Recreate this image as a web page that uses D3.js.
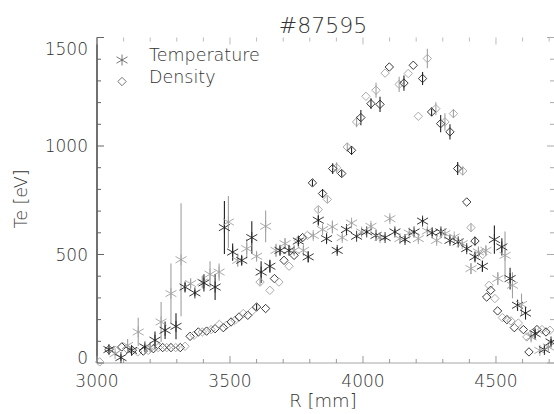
<!DOCTYPE html>
<html>
<head>
<meta charset="utf-8">
<script src="https://cdn.jsdelivr.net/npm/d3@7"></script>
<style>
  body { margin: 0; background: #fff; }
  svg text { font-family: "DejaVu Sans", sans-serif; font-weight: 200; fill: #333; }
</style>
</head>
<body>
<div id="chart"></div>
<script>
// Temperature profile: major radius R [mm], Te [eV], error
const tempR = [3045, 3068, 3090, 3115, 3130, 3155, 3180, 3200, 3218, 3241, 3256, 3278, 3297, 3316, 3331, 3352, 3368, 3396, 3402, 3425,
  3444, 3459, 3479, 3494, 3510, 3529, 3544, 3563, 3582, 3600, 3617, 3634, 3650, 3673, 3688, 3707, 3722, 3741, 3757, 3776,
  3794, 3813, 3832, 3848, 3863, 3885, 3903, 3922, 3938, 3957, 3976, 3995, 4014, 4030, 4049, 4064, 4083, 4101, 4120, 4139,
  4158, 4174, 4192, 4208, 4224, 4242, 4260, 4277, 4293, 4308, 4327, 4343, 4358, 4373, 4390, 4406, 4421, 4434, 4449, 4462,
  4494, 4507, 4522, 4534, 4553, 4562, 4581, 4596, 4611, 4632, 4647, 4665, 4682, 4697, 4707];
const tempTe = [62, 43, 25, 81, 58, 143, 74, 72, 105, 189, 151, 320, 169, 476, 350, 366, 323, 373, 369, 409,
  350, 419, 624, 650, 511, 473, 473, 527, 578, 492, 419, 630, 446, 519, 519, 550, 519, 519, 562, 519,
  489, 588, 658, 615, 573, 627, 519, 578, 615, 645, 584, 604, 604, 630, 588, 578, 578, 665, 604, 573,
  569, 599, 604, 573, 654, 608, 600, 565, 604, 596, 565, 581, 558, 550, 527, 435, 489, 512, 446, 519,
  569, 389, 535, 496, 389, 358, 266, 270, 230, 120, 135, 58, 62, 74, 97];
const tempErr = [10, 10, 15, 30, 20, 65, 15, 20, 40, 92, 40, 138, 60, 260, 20, 20, 15, 30, 40, 60,
  60, 40, 122, 120, 40, 30, 20, 45, 75, 20, 50, 73, 30, 30, 20, 25, 20, 20, 20, 20,
  25, 15, 20, 15, 20, 30, 15, 15, 15, 15, 10, 10, 10, 15, 10, 10, 10, 15, 15, 15,
  15, 10, 10, 15, 15, 15, 15, 15, 15, 10, 15, 10, 10, 10, 15, 25, 20, 20, 25, 20,
  65, 30, 40, 110, 50, 60, 25, 50, 30, 20, 20, 15, 15, 15, 15];

// Density profile (scaled onto the same axis)
const densR = [3010, 3045, 3070, 3093, 3112, 3133, 3153, 3174, 3193, 3212, 3230, 3247, 3262, 3278, 3296, 3313, 3331, 3350, 3365, 3381,
  3396, 3412, 3429, 3444, 3460, 3475, 3487, 3504, 3519, 3534, 3550, 3567, 3582, 3600, 3613, 3634, 3650, 3667, 3684, 3703,
  3722, 3741, 3757, 3773, 3791, 3810, 3832, 3848, 3866, 3886, 3901, 3920, 3941, 3957, 3976, 3992, 4011, 4030, 4049, 4064,
  4083, 4099, 4136, 4154, 4170, 4189, 4208, 4224, 4242, 4258, 4274, 4292, 4308, 4327, 4340, 4356, 4375, 4390, 4406, 4421,
  4450, 4465, 4474, 4480, 4496, 4506, 4524, 4541, 4556, 4569, 4584, 4603, 4616, 4624, 4637, 4654, 4673, 4688, 4703];
const densVal = [5, 62, 58, 74, 66, 58, 51, 55, 58, 66, 71, 71, 71, 71, 71, 71, 77, 123, 128, 143,
  143, 147, 154, 158, 178, 163, 174, 189, 197, 212, 228, 220, 238, 258, 373, 251, 335, 389, 373, 473,
  446, 496, 565, 578, 588, 830, 707, 781, 754, 896, 900, 873, 995, 980, 1111, 1131, 1229, 1195, 1257, 1192,
  1336, 1364, 1284, 1290, 1334, 1372, 1137, 1311, 1403, 1157, 1172, 1103, 1111, 1065, 1149, 896, 885, 742, 624, 562,
  500, 304, 358, 335, 297, 240, 209, 200, 194, 163, 184, 154, 120, 51, 138, 154, 154, 143, 151];
const densErr = [0, 0, 0, 0, 0, 0, 0, 0, 0, 0, 0, 0, 0, 0, 0, 0, 0, 0, 0, 0,
  0, 0, 0, 0, 0, 0, 0, 0, 0, 0, 0, 0, 0, 15, 15, 0, 0, 0, 0, 0,
  0, 0, 0, 0, 0, 15, 15, 20, 15, 25, 25, 15, 20, 20, 25, 35, 0, 25, 35, 35,
  0, 0, 35, 35, 0, 0, 0, 30, 45, 20, 30, 40, 40, 35, 20, 30, 20, 0, 20, 20,
  0, 0, 0, 0, 0, 0, 0, 0, 0, 0, 0, 0, 0, 0, 0, 0, 0, 0, 0];

const xTicks = [3000, 3500, 4000, 4500];
const yTicks = [0, 500, 1000, 1500];
const legendLabels = ["Temperature", "Density"];
const shades = ["#222", "#a0a0a0"]; // two overlapping acquisitions

const width = 554;
const height = 414;

const svg = d3.select("#chart")
  .append("svg")
  .attr("width", width)
  .attr("height", height);

const x = d3.scaleLinear().domain([3000, 4720]).range([97, 554.5]);
const y = d3.scaleLinear().domain([0, 1500]).range([363, 37.5]);

const temp = tempR.map((r, i) => ({ r, v: tempTe[i], e: tempErr[i], c: shades[i % 2] }));
const dens = densR.map((r, i) => ({ r, v: densVal[i], e: densErr[i], c: shades[(i + 1) % 2] }));

// asterisk symbol: vertical stroke plus two flat diagonals
const star = "M0,-5.5V5.5M-5.5,-3.2L5.5,3.2M-5.5,3.2L5.5,-3.2";
const diamond = "M0,-4.2L4.2,0L0,4.2L-4.2,0Z";

// axes frame
const y0 = y(0), y1 = y(1500);
svg.append("line").attr("x1", x(3000)).attr("x2", width).attr("y1", y0).attr("y2", y0)
  .attr("stroke", "#a8a8a8").attr("stroke-width", 1.2);
svg.append("line").attr("x1", x(3000)).attr("x2", x(3000)).attr("y1", y1).attr("y2", y0)
  .attr("stroke", "#111").attr("stroke-width", 1.2);

// minor + major ticks on x (bottom and top)
const xMinor = d3.range(3000, 4720, 100);
xMinor.forEach((t) => {
  const len = t % 500 === 0 ? 7 : 4;
  svg.append("line").attr("x1", x(t)).attr("x2", x(t)).attr("y1", y0).attr("y2", y0 - len)
    .attr("stroke", "#999");
  svg.append("line").attr("x1", x(t)).attr("x2", x(t)).attr("y1", y1).attr("y2", y1 + len)
    .attr("stroke", "#bbb");
});

// minor + major ticks on y (left and right)
d3.range(0, 1501, 100).forEach((t) => {
  const len = t % 500 === 0 ? 7 : 4;
  svg.append("line").attr("x1", x(3000)).attr("x2", x(3000) + len).attr("y1", y(t)).attr("y2", y(t))
    .attr("stroke", "#666");
  svg.append("line").attr("x1", width).attr("x2", width - len).attr("y1", y(t)).attr("y2", y(t))
    .attr("stroke", "#aaa");
});

// tick labels
svg.selectAll(".xl").data(xTicks).enter().append("text")
  .attr("x", (d) => x(d)).attr("y", 387)
  .attr("text-anchor", "middle").style("font-size", "17px")
  .text((d) => d);

svg.selectAll(".yl").data(yTicks).enter().append("text")
  .attr("x", 88).attr("y", (d) => Math.min(Math.max(y(d), 49), 358))
  .attr("dy", "0.36em")
  .attr("text-anchor", "end").style("font-size", "17px")
  .text((d) => d);

// titles
svg.append("text").attr("x", 323).attr("y", 33).attr("text-anchor", "middle")
  .style("font-size", "22px").text("#87595");
svg.append("text").attr("x", 323).attr("y", 407).attr("text-anchor", "middle")
  .style("font-size", "18px").text("R [mm]");
svg.append("text").attr("transform", "translate(27,199) rotate(-90)").attr("text-anchor", "middle")
  .style("font-size", "17.5px").text("Te [eV]");

// error bars
const plot = svg.append("g");
plot.selectAll(".te").data(temp.concat(dens).filter((d) => d.e > 0)).enter().append("line")
  .attr("x1", (d) => x(d.r)).attr("x2", (d) => x(d.r))
  .attr("y1", (d) => y(d.v - d.e)).attr("y2", (d) => y(d.v + d.e))
  .attr("stroke", (d) => d.c).attr("stroke-width", 1.1);

// density diamonds
plot.selectAll(".dn").data(dens).enter().append("path")
  .attr("d", diamond)
  .attr("transform", (d) => `translate(${x(d.r)},${y(d.v)})`)
  .attr("fill", "none").attr("stroke", (d) => d.c).attr("stroke-width", 0.9);

// temperature asterisks
plot.selectAll(".tp").data(temp).enter().append("path")
  .attr("d", star)
  .attr("transform", (d) => `translate(${x(d.r)},${y(d.v)})`)
  .attr("fill", "none").attr("stroke", (d) => d.c).attr("stroke-width", 0.9);

// legend
const legend = svg.append("g");
legend.append("path").attr("d", star).attr("transform", "translate(122,60)")
  .attr("fill", "none").attr("stroke", "#555").attr("stroke-width", 0.8);
legend.append("path").attr("d", diamond).attr("transform", "translate(122,81.5)")
  .attr("fill", "none").attr("stroke", "#555").attr("stroke-width", 0.8);
legend.selectAll("text").data(legendLabels).enter().append("text")
  .attr("x", 149).attr("y", (d, i) => 61 + i * 22)
  .style("font-size", "17.5px")
  .text((d) => d);
</script>
</body>
</html>
